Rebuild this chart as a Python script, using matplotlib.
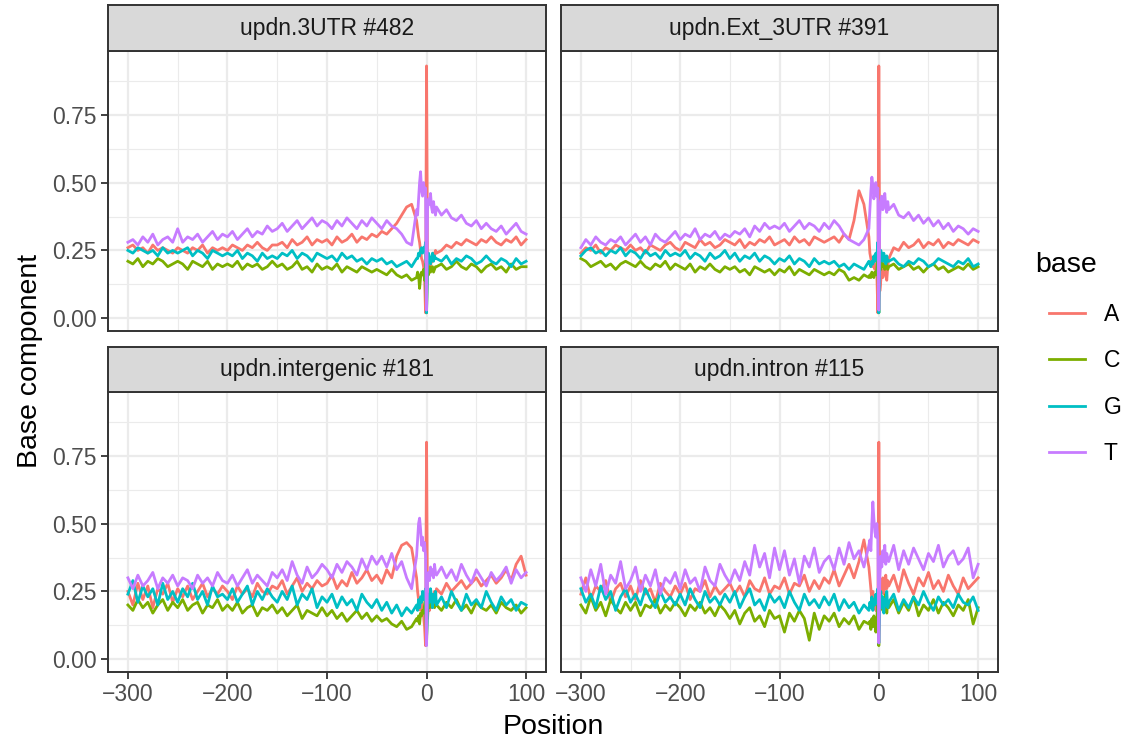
import numpy as np
import matplotlib.pyplot as plt

plt.rcParams['font.family'] = ['Liberation Sans', 'DejaVu Sans']

# positions: every 5 nt far from the site, every nt around it
position = np.concatenate([np.arange(-300, -5, 5), np.arange(-9, 10), np.arange(10, 101, 5)])

bases = ['A', 'C', 'G', 'T']
colors = ['#F8766D', '#7CAE00', '#00BFC4', '#C77CFF']
titles = ['updn.3UTR #482', 'updn.Ext_3UTR #391', 'updn.intergenic #181', 'updn.intron #115']

# values in percent
utr_A = [26, 27, 25, 26, 24, 27, 25, 26, 25, 24,
         26, 25, 24, 26, 25, 27, 24, 26, 25, 26,
         25, 27, 26, 25, 27, 26, 28, 26, 25, 27,
         27, 28, 26, 29, 27, 28, 30, 27, 29, 28,
         29, 27, 30, 28, 29, 31, 28, 30, 29, 31,
         30, 32, 31, 33, 35, 38, 41, 42, 36,
         33, 30, 28, 25, 22, 21, 19, 15, 2, 93, 20, 18, 21, 19, 22, 21, 24, 23, 25,
         24, 25, 27, 26, 28, 27, 29, 28, 27, 29, 28, 30, 28, 27, 29, 28, 30, 27, 29]
utr_C = [21, 20, 22, 19, 21, 20, 22, 21, 19, 20,
         21, 20, 18, 21, 20, 19, 21, 18, 20, 19,
         20, 19, 21, 18, 20, 19, 20, 18, 19, 21,
         19, 20, 18, 19, 21, 18, 19, 17, 20, 18,
         19, 18, 20, 17, 19, 18, 17, 19, 18, 17,
         18, 17, 16, 18, 16, 15, 16, 14, 15,
         17, 16, 11, 15, 17, 16, 18, 14, 20, 2, 18, 16, 19, 17, 18, 19, 17, 18, 19,
         19, 20, 18, 19, 21, 19, 18, 20, 19, 17, 19, 20, 18, 19, 17, 20, 18, 19, 19]
utr_G = [25, 24, 26, 25, 24, 25, 23, 26, 24, 25,
         24, 25, 26, 23, 25, 24, 22, 25, 24, 23,
         24, 23, 25, 22, 24, 23, 21, 24, 22, 23,
         22, 24, 23, 25, 22, 24, 23, 21, 24, 23,
         22, 23, 21, 24, 22, 23, 21, 22, 20, 22,
         21, 22, 20, 21, 19, 20, 21, 19, 22,
         22, 24, 23, 25, 26, 24, 26, 25, 28, 2, 22, 24, 22, 20, 22, 24, 21, 23, 22,
         22, 21, 23, 20, 22, 21, 23, 22, 20, 21, 23, 21, 20, 22, 21, 19, 22, 20, 21]
utr_T = [28, 29, 27, 30, 28, 31, 27, 29, 30, 28,
         33, 28, 30, 29, 31, 28, 30, 32, 29, 31,
         30, 32, 29, 31, 33, 30, 32, 31, 34, 32,
         33, 35, 32, 34, 36, 33, 35, 37, 34, 36,
         35, 33, 36, 34, 37, 35, 33, 36, 34, 37,
         35, 33, 36, 34, 33, 31, 28, 27, 40,
         38, 44, 50, 54, 47, 45, 50, 46, 48, 3, 40, 44, 42, 46, 41, 39, 43, 40, 38,
         41, 38, 40, 37, 36, 38, 35, 34, 36, 33, 35, 33, 32, 34, 31, 33, 35, 32, 31]

ext_A = [24, 26, 25, 27, 24, 26, 25, 27, 26, 25,
         27, 25, 26, 24, 27, 26, 25, 27, 28, 26,
         25, 28, 27, 26, 29, 27, 28, 26, 27, 29,
         28, 27, 29, 26, 28, 27, 29, 28, 30, 27,
         28, 29, 27, 30, 28, 29, 27, 30, 29, 28,
         29, 30, 28, 31, 29, 36, 47, 42, 30,
         24, 22, 20, 19, 21, 18, 20, 17, 2, 93, 10, 14, 18, 15, 17, 20, 16, 14, 19,
         22, 26, 25, 28, 26, 27, 29, 26, 28, 27, 29, 26, 28, 27, 29, 28, 27, 29, 28]
ext_C = [22, 21, 19, 20, 21, 19, 20, 18, 20, 21,
         20, 19, 21, 19, 18, 20, 19, 21, 18, 20,
         19, 18, 20, 17, 19, 18, 20, 18, 17, 19,
         18, 19, 17, 18, 16, 19, 18, 17, 18, 16,
         18, 17, 19, 16, 18, 17, 16, 18, 17, 16,
         17, 16, 18, 17, 14, 15, 14, 16, 15,
         16, 15, 17, 16, 15, 17, 16, 18, 22, 2, 20, 18, 21, 19, 20, 18, 21, 19, 18,
         19, 20, 18, 19, 20, 18, 19, 17, 19, 20, 18, 19, 17, 18, 19, 18, 20, 18, 19]
ext_G = [23, 25, 26, 24, 25, 23, 25, 24, 26, 23,
         25, 24, 22, 25, 23, 24, 22, 25, 23, 24,
         23, 25, 22, 24, 23, 21, 24, 22, 23, 25,
         22, 24, 21, 23, 22, 24, 21, 23, 22, 20,
         22, 21, 23, 20, 22, 21, 19, 22, 20, 21,
         20, 21, 19, 20, 18, 20, 19, 18, 21,
         20, 19, 21, 20, 23, 21, 24, 22, 28, 2, 20, 25, 23, 21, 24, 22, 20, 23, 21,
         21, 22, 20, 19, 21, 20, 22, 21, 19, 20, 22, 21, 20, 19, 21, 20, 22, 19, 20]
ext_T = [26, 29, 27, 30, 28, 27, 29, 28, 30, 27,
         29, 31, 28, 30, 27, 31, 29, 28, 30, 32,
         29, 31, 30, 33, 29, 31, 30, 32, 29, 31,
         30, 32, 31, 33, 30, 34, 32, 35, 33, 34,
         33, 35, 32, 34, 36, 33, 35, 34, 32, 35,
         33, 36, 34, 31, 29, 28, 27, 29, 33,
         40, 47, 52, 49, 44, 47, 50, 45, 48, 3, 38, 43, 45, 40, 42, 46, 41, 39, 43,
         40, 42, 38, 37, 39, 36, 38, 35, 37, 34, 36, 33, 35, 32, 34, 33, 31, 33, 32]

igr_A = [25, 20, 28, 22, 27, 19, 26, 24, 28, 21,
         26, 23, 27, 22, 25, 28, 23, 26, 24, 27,
         25, 22, 27, 24, 26, 23, 28, 25, 24, 27,
         26, 29, 24, 27, 30, 25, 28, 26, 29, 27,
         28, 31, 26, 29, 27, 32, 28, 30, 33, 29,
         31, 28, 33, 30, 38, 42, 43, 41, 30,
         25, 22, 20, 18, 21, 19, 16, 12, 5, 80, 15, 20, 18, 22, 19, 24, 21, 25, 23,
         26, 24, 28, 25, 27, 29, 26, 28, 30, 27, 29, 31, 28, 30, 33, 29, 35, 38, 31]
igr_C = [20, 18, 22, 19, 21, 17, 20, 22, 18, 21,
         19, 22, 18, 20, 21, 17, 20, 19, 22, 18,
         20, 18, 21, 17, 19, 20, 16, 19, 18, 20,
         17, 19, 16, 18, 20, 15, 18, 17, 16, 19,
         16, 18, 15, 17, 14, 16, 18, 15, 17, 14,
         16, 14, 15, 13, 12, 14, 11, 12, 15,
         14, 16, 13, 17, 16, 18, 17, 20, 24, 6, 20, 22, 19, 21, 23, 20, 22, 19, 21,
         20, 18, 21, 19, 22, 18, 20, 17, 21, 19, 18, 20, 17, 21, 19, 18, 20, 17, 19]
igr_G = [24, 29, 21, 27, 23, 26, 20, 28, 22, 25,
         21, 26, 23, 28, 22, 25, 20, 27, 23, 24,
         22, 26, 21, 24, 27, 20, 25, 22, 26, 23,
         21, 25, 22, 27, 20, 24, 22, 26, 19, 23,
         21, 24, 19, 23, 20, 22, 18, 24, 21, 19,
         22, 18, 21, 17, 20, 16, 19, 17, 20,
         18, 22, 19, 23, 21, 25, 22, 24, 26, 8, 18, 24, 21, 26, 23, 19, 24, 21, 25,
         20, 23, 19, 25, 21, 18, 24, 20, 22, 19, 25, 21, 18, 23, 20, 22, 18, 21, 20]
igr_T = [30, 26, 31, 27, 29, 32, 26, 30, 28, 31,
         27, 30, 29, 26, 31, 28, 30, 27, 32, 29,
         28, 31, 27, 30, 33, 28, 31, 29, 27, 32,
         30, 33, 29, 36, 31, 28, 34, 30, 32, 35,
         33, 30, 35, 32, 36, 34, 31, 37, 33, 38,
         35, 38, 34, 39, 33, 36, 30, 26, 38,
         44, 50, 52, 48, 42, 45, 40, 43, 38, 5, 30, 32, 29, 34, 31, 33, 30, 35, 32,
         31, 34, 30, 33, 29, 35, 31, 28, 33, 30, 27, 32, 29, 31, 34, 28, 33, 30, 32]

itr_A = [24, 30, 22, 27, 25, 29, 21, 26, 28, 23,
         27, 22, 29, 24, 26, 21, 28, 25, 23, 27,
         24, 28, 22, 26, 25, 29, 23, 27, 24, 26,
         28, 24, 27, 23, 29, 26, 25, 30, 24, 27,
         26, 30, 24, 28, 27, 31, 25, 29, 26, 30,
         28, 33, 27, 31, 35, 30, 36, 44, 34,
         30, 26, 22, 25, 20, 23, 18, 21, 10, 80, 22, 28, 25, 30, 24, 27, 31, 26, 29,
         27, 31, 25, 33, 28, 24, 30, 27, 32, 26, 29, 25, 31, 27, 24, 30, 26, 28, 30]
itr_C = [20, 17, 23, 18, 21, 16, 22, 19, 17, 21,
         18, 21, 16, 20, 19, 22, 17, 20, 18, 21,
         19, 16, 20, 18, 21, 17, 19, 16, 20, 18,
         15, 18, 13, 17, 19, 14, 16, 12, 18, 15,
         16, 10, 17, 14, 18, 15, 7, 17, 11, 16,
         14, 17, 12, 15, 13, 16, 11, 14, 13,
         14, 11, 15, 12, 16, 13, 10, 15, 20, 5, 25, 20, 23, 18, 22, 19, 24, 17, 21,
         19, 22, 17, 21, 18, 23, 16, 20, 18, 22, 17, 21, 19, 16, 20, 18, 22, 13, 19]
itr_G = [26, 21, 24, 19, 27, 22, 25, 18, 23, 26,
         21, 24, 20, 26, 22, 19, 25, 21, 23, 20,
         24, 20, 26, 22, 19, 25, 21, 23, 20, 24,
         21, 25, 19, 23, 26, 20, 22, 18, 24, 21,
         23, 19, 25, 21, 18, 24, 20, 22, 19, 23,
         20, 24, 18, 22, 19, 21, 17, 20, 18,
         21, 19, 23, 18, 22, 20, 24, 21, 26, 6, 20, 25, 19, 23, 17, 22, 20, 25, 19,
         21, 24, 18, 22, 19, 23, 20, 25, 21, 18, 23, 20, 22, 19, 24, 21, 20, 23, 18]
itr_T = [30, 25, 33, 27, 35, 24, 31, 28, 36, 26,
         29, 34, 25, 31, 27, 33, 24, 30, 28, 32,
         26, 33, 28, 30, 25, 34, 29, 27, 35, 31,
         28, 33, 29, 36, 31, 42, 34, 39, 30, 41,
         33, 40, 31, 37, 28, 38, 34, 41, 32, 36,
         38, 33, 41, 35, 43, 37, 40, 34, 42,
         44, 40, 50, 58, 52, 47, 45, 50, 44, 6, 30, 38, 34, 40, 36, 42, 35, 39, 37,
         36, 42, 33, 40, 35, 41, 37, 33, 39, 36, 42, 34, 38, 40, 35, 37, 41, 30, 35]

panels = [
    [utr_A, utr_C, utr_G, utr_T],
    [ext_A, ext_C, ext_G, ext_T],
    [igr_A, igr_C, igr_G, igr_T],
    [itr_A, itr_C, itr_G, itr_T],
]

W, H = 1122, 740
fig = plt.figure(figsize=(W / 100, H / 100), dpi=100)


def box(l, t, r, b):
    return [l / W, 1 - b / H, (r - l) / W, (b - t) / H]


panel_px = [(108, 51, 546, 331), (561, 51, 998, 331), (108, 392, 546, 672), (561, 392, 998, 672)]
strip_px = [(108, 5, 546, 51), (561, 5, 998, 51), (108, 347, 546, 392), (561, 347, 998, 392)]
dark = '#333333'

for k in range(4):
    ax = fig.add_axes(box(*panel_px[k]))
    for series, c, b in zip(panels[k], colors, bases):
        ax.plot(position, np.array(series) / 100, color=c, lw=2.0, label=b)
    ax.set_xlim(-320, 120)
    ax.set_ylim(-0.047, 0.985)
    ax.set_xticks([-300, -200, -100, 0, 100])
    ax.set_xticks([-250, -150, -50, 50], minor=True)
    ax.set_yticks([0, 0.25, 0.5, 0.75])
    ax.set_yticks([0.125, 0.375, 0.625, 0.875], minor=True)
    ax.grid(which='major', color='#EBEBEB', lw=1.6)
    ax.grid(which='minor', color='#EBEBEB', lw=0.8)
    ax.set_axisbelow(True)
    for s in ax.spines.values():
        s.set_color(dark)
        s.set_linewidth(1.4)
    ax.tick_params(which='minor', length=0)
    ax.tick_params(which='major', length=5, width=1.3, color=dark,
                   labelsize=16.5, labelcolor='#4D4D4D', pad=3)
    ax.set_xticklabels(['\u2212300', '\u2212200', '\u2212100', '0', '100'])
    ax.set_yticklabels(['0.00', '0.25', '0.50', '0.75'])
    if k < 2:
        ax.tick_params(axis='x', length=0, labelbottom=False)
    if k % 2 == 1:
        ax.tick_params(axis='y', length=0, labelleft=False)
    if k == 0:
        handles = ax.get_lines()

    sax = fig.add_axes(box(*strip_px[k]))
    sax.set_facecolor('#D9D9D9')
    sax.set_xticks([])
    sax.set_yticks([])
    for s in sax.spines.values():
        s.set_color(dark)
        s.set_linewidth(1.4)
    sax.text(0.5, 0.5, titles[k], ha='center', va='center', fontsize=16.5,
             color='#1A1A1A', transform=sax.transAxes)

fig.text(30 / W, 1 - 361 / H, 'Base component', rotation=90, ha='center', va='center',
         fontsize=20.5)
fig.text(553 / W, 1 - 727 / H, 'Position', ha='center', va='center', fontsize=20.5)

# legend
fig.text(1035 / W, 1 - 265 / H, 'base', ha='left', va='center', fontsize=20.5)
fig.legend(handles, bases, loc='upper left', bbox_to_anchor=(1028 / W, 1 - 282 / H),
           frameon=False, fontsize=16.5, handlelength=1.6, handletextpad=0.8,
           labelspacing=1.03)

fig.savefig('out.png', dpi=100)
